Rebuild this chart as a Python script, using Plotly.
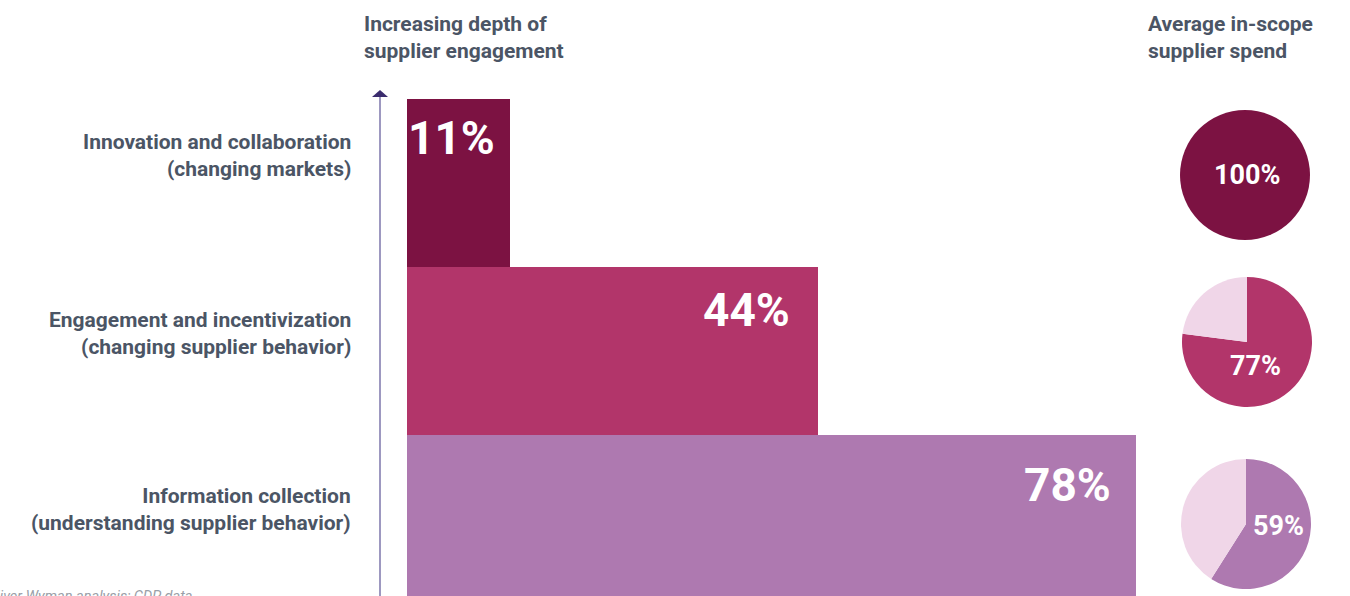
import plotly.graph_objects as go

# ---- data ----
levels = ["Information collection<br>(understanding supplier behavior)",
          "Engagement and incentivization<br>(changing supplier behavior)",
          "Innovation and collaboration<br>(changing markets)"]
share_pct = [78, 44, 11]          # share of companies at each depth
spend_pct = [59, 77, 100]         # average in-scope supplier spend
bar_colors = ["#ae79b0", "#b2356a", "#7c1242"]
light_color = "#f0d6e8"

W, H = 1350, 596
FONT = "Roboto"
TXT = "#4b5565"

def px(x):
    return x / W

def py(y):
    return (H - y) / H

fig = go.Figure()

# bars: y positions 0 (bottom) .. 2 (top)
ypos = [0, 1, 2]
fig.add_trace(go.Bar(
    x=share_pct, y=ypos, orientation="h", width=1.0,
    marker=dict(color=bar_colors, line=dict(width=0)),
    hoverinfo="skip", showlegend=False,
))

# x scale: 0 -> 407px, 78 -> 1136px
s = (1136 - 407) / 78.0
x0 = -407 / s
x1 = x0 + W / s
# y scale: each band 168px, top band top at 99px
band = 168.0
y_top = 2.5 + 99 / band
y_bot = y_top - H / band

fig.update_xaxes(range=[x0, x1], visible=False, fixedrange=True)
fig.update_yaxes(range=[y_bot, y_top], visible=False, fixedrange=True)

annotations = []

# percentage labels inside bars
bar_label_y = [485, 310, 138]
bar_label_shift = [-23, -26, -13]
for v, yy, sh in zip(share_pct, bar_label_y, bar_label_shift):
    annotations.append(dict(
        x=v, xref="x", y=py(yy), yref="paper", xanchor="right", yanchor="middle",
        xshift=sh, text=f"<b>{v}%</b>", showarrow=False,
        font=dict(family=FONT, size=46, color="white")))

# left category labels
label_y = [509, 333, 155]
for lab, yy in zip(levels, label_y):
    annotations.append(dict(
        x=px(353), xref="paper", y=py(yy), yref="paper", xanchor="right", yanchor="middle",
        align="right", text=f"<b>{lab}</b>", showarrow=False,
        font=dict(family=FONT, size=21, color=TXT)))

# headers
annotations.append(dict(
    x=px(362), xref="paper", y=py(38), yref="paper", xanchor="left", yanchor="middle",
    align="left", text="<b>Increasing depth of<br>supplier engagement</b>", showarrow=False,
    font=dict(family=FONT, size=21, color=TXT)))
annotations.append(dict(
    x=px(1146), xref="paper", y=py(38), yref="paper", xanchor="left", yanchor="middle",
    align="left", text="<b>Average in-scope<br>supplier spend</b>", showarrow=False,
    font=dict(family=FONT, size=21, color=TXT)))

# source note (partially cut off at the edge)
annotations.append(dict(
    x=px(194), xref="paper", y=py(586), yref="paper", xanchor="right", yanchor="top",
    text="<i>Source: Oliver Wyman analysis; CDP data</i>", showarrow=False,
    font=dict(family=FONT, size=14.5, color="#9aa0a8")))

# pies
pie_centers = [(1246, 524), (1247, 342), (1245, 175)]
pie_label_pos = [(1278, 526), (1255, 366), (1247, 175)]
R = 65
for v, c, (cx, cy), (lx, ly) in zip(spend_pct, bar_colors, pie_centers, pie_label_pos):
    fig.add_trace(go.Pie(
        values=[v, 100 - v], sort=False, direction="clockwise", rotation=0,
        marker=dict(colors=[c, light_color], line=dict(width=0)),
        textinfo="none", hoverinfo="skip", showlegend=False,
        domain=dict(x=[px(cx - R), px(cx + R)], y=[py(cy + R), py(cy - R)]),
    ))
    annotations.append(dict(
        x=px(lx), xref="paper", y=py(ly), yref="paper", xanchor="center", yanchor="middle",
        text=f"<b>{v}%</b>", showarrow=False,
        font=dict(family=FONT, size=27, color="white")))

# axis arrow
shapes = [
    dict(type="line", xref="paper", yref="paper", x0=px(380), x1=px(380),
         y0=py(97), y1=py(600), line=dict(color="#9d98c0", width=2)),
    dict(type="path", xref="paper", yref="paper",
         path=f"M {px(372)},{py(97)} L {px(388)},{py(97)} L {px(380)},{py(90)} Z",
         fillcolor="#3b2c6e", line=dict(width=0)),
]

fig.update_layout(
    width=W, height=H,
    margin=dict(l=0, r=0, t=0, b=0),
    paper_bgcolor="white", plot_bgcolor="white",
    annotations=annotations, shapes=shapes,
    bargap=0, showlegend=False,
)

fig.write_html("out.html", config={"displayModeBar": False})
